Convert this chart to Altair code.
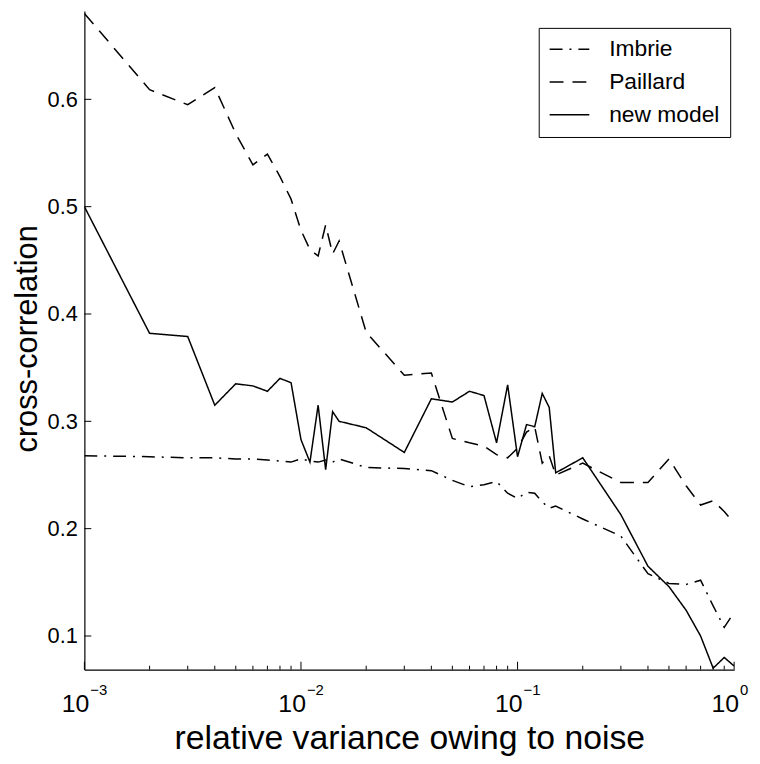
import altair as alt
import pandas as pd

# ---- data ----
noise = [0.001, 0.002, 0.003, 0.004, 0.005, 0.006, 0.007, 0.008, 0.009,
         0.01, 0.011, 0.012, 0.013, 0.014, 0.015, 0.02, 0.03, 0.04, 0.05,
         0.06, 0.07, 0.08, 0.09,
         0.1, 0.11, 0.12, 0.13, 0.14, 0.15, 0.2, 0.3, 0.4, 0.5, 0.6, 0.7,
         0.8, 0.9, 1.0]

imbrie = [0.268, 0.267, 0.266, 0.266, 0.265, 0.265, 0.264, 0.263, 0.262,
          0.265, 0.263, 0.262, 0.264, 0.262, 0.265, 0.257, 0.256, 0.254, 0.245,
          0.239, 0.241, 0.244, 0.233,
          0.228, 0.234, 0.233, 0.225, 0.219, 0.221, 0.209, 0.193, 0.158, 0.149,
          0.148, 0.152, 0.128, 0.108, 0.122]

paillard = [0.680, 0.609, 0.595, 0.611, 0.568, 0.539, 0.549, 0.528, 0.507,
            0.478, 0.460, 0.454, 0.483, 0.456, 0.468, 0.383, 0.343, 0.345, 0.284,
            0.280, 0.277, 0.269, 0.266,
            0.275, 0.290, 0.295, 0.261, 0.268, 0.250, 0.261, 0.243, 0.243, 0.265,
            0.240, 0.222, 0.226, 0.216, 0.205]

new_model = [0.500, 0.382, 0.379, 0.315, 0.335, 0.333, 0.328, 0.340, 0.336,
             0.283, 0.262, 0.315, 0.255, 0.309, 0.300, 0.294, 0.271, 0.321, 0.318,
             0.328, 0.324, 0.280, 0.334,
             0.267, 0.297, 0.295, 0.326, 0.313, 0.252, 0.266, 0.213, 0.165, 0.146,
             0.124, 0.100, 0.070, 0.080, 0.072]

series_names = ["Imbrie", "Paillard", "new model"]

y_ticks = [0.1, 0.2, 0.3, 0.4, 0.5, 0.6]
x_major = [0.001, 0.01, 0.1, 1.0]
x_exponents = ["\u22123", "\u22122", "\u22121", "0"]
x_minor = [0.002, 0.003, 0.004, 0.005, 0.006, 0.007, 0.008, 0.009,
           0.02, 0.03, 0.04, 0.05, 0.06, 0.07, 0.08, 0.09,
           0.2, 0.3, 0.4, 0.5, 0.6, 0.7, 0.8, 0.9]

# ---- tables ----
rows = []
for name, vals in zip(series_names, [imbrie, paillard, new_model]):
    for xv, yv in zip(noise, vals):
        rows.append({"noise": xv, "corr": yv, "series": name})
df = pd.DataFrame(rows)

ytick_df = pd.DataFrame({"noise": [0.001] * len(y_ticks), "corr": y_ticks})
xmaj_df = pd.DataFrame({"noise": x_major, "base": ["10"] * len(x_major), "exp": x_exponents})
xmin_df = pd.DataFrame({"noise": x_minor})

W, H = 655, 664
FONT = "Liberation Sans"

x_scale = alt.Scale(type="log", domain=[0.001, 1.0], nice=False)
y_scale = alt.Scale(domain=[0.0686, 0.6823], nice=False, zero=False)

x_axis = alt.Axis(title="relative variance owing to noise", labels=False,
                  ticks=False, tickSize=0, grid=False, domain=True,
                  domainColor="black", domainWidth=1.2,
                  titleFont=FONT, titleFontSize=34, titleFontWeight="normal",
                  titleColor="black", titleX=W / 2, titleY=79,
                  titleBaseline="alphabetic", titleAlign="center")
y_axis = alt.Axis(title="cross-correlation", values=y_ticks, format=".1f",
                  ticks=False, tickSize=0, grid=False, domain=True,
                  domainColor="black", domainWidth=1.2,
                  labelFont=FONT, labelFontSize=22, labelColor="black",
                  labelPadding=7,
                  titleFont=FONT, titleFontSize=31, titleFontWeight="normal",
                  titleColor="black", titleX=-48, titleY=H / 2 - 2,
                  titleAngle=-90, titleAlign="center",
                  titleBaseline="alphabetic")

X = alt.X("noise:Q", scale=x_scale, axis=x_axis)
Y = alt.Y("corr:Q", scale=y_scale, axis=y_axis)

lines = alt.Chart(df).mark_line(strokeWidth=1.5, color="black", clip=True).encode(
    x=X,
    y=Y,
    strokeDash=alt.StrokeDash(
        "series:N",
        scale=alt.Scale(domain=series_names,
                        range=[[13, 7, 2, 7], [14, 9], [1, 0]]),
        legend=alt.Legend(title=None, orient="none", legendX=458, legendY=17,
                          strokeColor="black", fillColor="white", padding=10,
                          symbolType="stroke", symbolSize=1600,
                          symbolStrokeWidth=1.5, symbolStrokeColor="black",
                          labelFont=FONT, labelFontSize=23, labelColor="black",
                          labelOffset=19, clipHeight=23, rowPadding=9,
                          cornerRadius=0)),
    order=alt.Order("noise:Q"),
)

ytick_rules = alt.Chart(ytick_df).mark_rule(color="black", strokeWidth=1).encode(
    y=Y,
    x=alt.value(0), x2=alt.value(7),
)

xmaj_rules = alt.Chart(xmaj_df).mark_rule(color="black", strokeWidth=1).encode(
    x=X,
    y=alt.value(H), y2=alt.value(H - 8),
)

xmin_rules = alt.Chart(xmin_df).mark_rule(color="black", strokeWidth=1).encode(
    x=X,
    y=alt.value(H), y2=alt.value(H - 4),
)

xlab_base = alt.Chart(xmaj_df).mark_text(
    align="right", baseline="alphabetic", fontSize=25, font=FONT, color="black", dx=5
).encode(
    x=X,
    y=alt.value(H + 43),
    text="base:N",
)

xlab_exp = alt.Chart(xmaj_df).mark_text(
    align="left", baseline="alphabetic", fontSize=15, font=FONT, color="black", dx=6
).encode(
    x=X,
    y=alt.value(H + 26),
    text="exp:N",
)

chart = alt.layer(
    lines, ytick_rules, xmaj_rules, xmin_rules, xlab_base, xlab_exp
).properties(
    width=W, height=H,
    background="white",
    autosize=alt.AutoSizeParams(type="none"),
    padding={"left": 77, "top": 0, "right": 18, "bottom": 86},
).configure_view(stroke=None)

chart.save("out.html", embed_options={"renderer": "svg", "actions": False})
